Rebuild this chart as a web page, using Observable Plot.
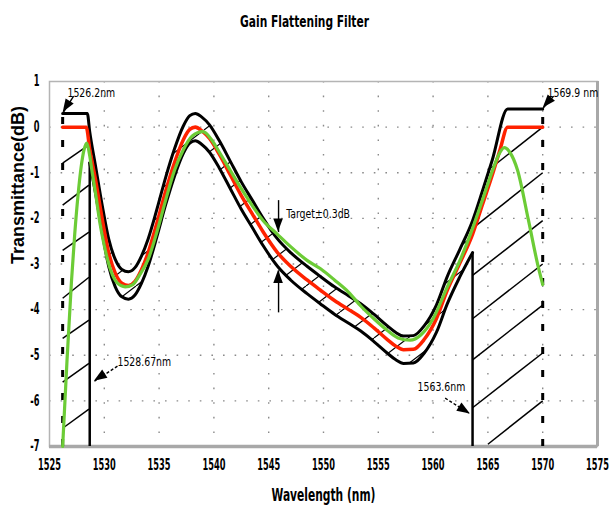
<!DOCTYPE html>
<html><head><meta charset="utf-8">
<script src="https://cdn.jsdelivr.net/npm/d3@7"></script>
<script src="https://cdn.jsdelivr.net/npm/@observablehq/plot@0.6"></script>
<style>body{margin:0;background:#fff}</style>
</head><body><div id="chart"></div>
<script>
const NARROW = "'Liberation Sans Narrow','DejaVu Sans Condensed','Arial Narrow',sans-serif";
const WIDE = "'Liberation Sans',Arial,sans-serif";

// axis ticks
const xTicks = [1525, 1530, 1535, 1540, 1545, 1550, 1555, 1560, 1565, 1570, 1575];
const yTicks = [1, 0, -1, -2, -3, -4, -5, -6, -7];
const gridX = [1530, 1535, 1540, 1545, 1550, 1555, 1560, 1565, 1570];
const gridY = [0, -1, -2, -3, -4, -5, -6];

// mask / target curves (middle section, shared wavelengths)
const wlMid = [1528.67, 1529.2, 1529.8, 1530.4, 1531.0, 1531.6, 1532.2, 1532.8, 1533.4, 1534.0, 1534.8, 1535.6, 1536.4, 1537.2, 1537.8, 1538.3, 1538.9, 1539.6, 1540.5, 1541.5, 1542.5, 1543.5, 1544.5, 1545.8, 1547.0, 1548.5, 1549.7, 1551.0, 1552.3, 1553.4, 1554.6, 1555.8, 1556.6, 1557.3, 1558.2, 1559.2, 1560.3, 1561.3, 1562.4, 1563.6];
const targetMid = [-0.48, -1.15, -2.0, -2.75, -3.2, -3.42, -3.47, -3.38, -3.12, -2.75, -2.1, -1.4, -0.78, -0.28, -0.05, 0.0, -0.08, -0.25, -0.6, -1.05, -1.5, -1.9, -2.3, -2.75, -3.05, -3.35, -3.57, -3.8, -4.0, -4.17, -4.4, -4.65, -4.8, -4.88, -4.87, -4.65, -4.2, -3.57, -3.0, -2.35];
const upperMid = [-0.1, -0.85, -1.7, -2.45, -2.9, -3.12, -3.17, -3.08, -2.82, -2.45, -1.8, -1.1, -0.48, 0.02, 0.25, 0.3, 0.22, 0.05, -0.3, -0.75, -1.2, -1.6, -2.0, -2.45, -2.75, -3.05, -3.27, -3.5, -3.7, -3.87, -4.1, -4.35, -4.5, -4.58, -4.57, -4.35, -3.9, -3.27, -2.7, -2.05];
const lowerMid = [-0.78, -1.45, -2.3, -3.05, -3.5, -3.72, -3.77, -3.68, -3.42, -3.05, -2.4, -1.7, -1.08, -0.58, -0.35, -0.3, -0.38, -0.55, -0.9, -1.35, -1.8, -2.2, -2.6, -3.05, -3.35, -3.65, -3.87, -4.1, -4.3, -4.47, -4.7, -4.95, -5.1, -5.18, -5.17, -4.95, -4.5, -3.87, -3.3, -2.75];

// edges
const targetLeftWl = [1526.2, 1528.35];
const targetLeftDb = [0, 0];
const targetRightWl = [1564.5, 1565.4, 1566.1, 1566.8, 1570.0];
const targetRightDb = [-1.7, -1.05, -0.5, 0, 0];
const upperLeftWl = [1526.2, 1528.45];
const upperLeftDb = [0.3, 0.3];
const upperRightWl = [1564.5, 1565.4, 1566.8, 1570.0];
const upperRightDb = [-1.4, -0.72, 0.4, 0.4];

// measured transmittance (green)
const measWl = [1526.2, 1526.6, 1527.0, 1527.3, 1527.6, 1527.9, 1528.15, 1528.4, 1528.65, 1528.9, 1529.2, 1529.6, 1530.0, 1530.6, 1531.2, 1531.9, 1532.6, 1533.2, 1534.0, 1534.8, 1535.6, 1536.4, 1537.2, 1538.0, 1539.0, 1539.8, 1540.5, 1541.5, 1542.5, 1543.5, 1544.5, 1545.8, 1547.0, 1548.5, 1549.7, 1551.0, 1552.3, 1553.4, 1554.6, 1555.8, 1556.8, 1557.9, 1558.9, 1560.0, 1561.3, 1562.4, 1563.4, 1564.5, 1565.5, 1566.0, 1566.5, 1567.0, 1567.7, 1568.7, 1569.6, 1570.0];
const measDb = [-7.0, -5.1, -3.4, -2.35, -1.5, -0.85, -0.5, -0.35, -0.6, -1.0, -1.45, -2.1, -2.6, -3.15, -3.42, -3.5, -3.45, -3.25, -2.9, -2.3, -1.6, -0.95, -0.5, -0.2, -0.1, -0.28, -0.55, -0.95, -1.35, -1.72, -2.05, -2.35, -2.62, -2.92, -3.1, -3.35, -3.62, -3.92, -4.2, -4.45, -4.62, -4.67, -4.55, -4.2, -3.5, -2.95, -2.35, -1.6, -0.9, -0.6, -0.45, -0.55, -0.94, -2.04, -3.07, -3.45];

// band limits (vertical lines)
const solidLineWl = [1528.67, 1563.6];
const solidLineTop = [-0.78, -2.75];
const dashedLineWl = [1526.2, 1570.0];
const dashedLineTop = [0.3, 0.4];

// hatching of the side regions
const leftHatchY1 = [-0.79, -1.71, -2.70, -3.75, -4.63, -5.59, -6.60];
const leftHatchY2 = [-0.39, -1.27, -2.30, -3.29, -4.23, -5.18, -6.18];
const rightHatchX1 = [1565.3, 1563.6, 1563.6, 1563.6, 1563.6, 1563.6, 1565.0];
const rightHatchY1 = [-0.89, -2.22, -3.25, -4.2, -5.1, -6.15, -6.95];
const rightHatchY2 = [0.0, -1.0, -2.05, -3.0, -3.9, -4.95, -6.0];

// annotations
const annoText = ["1526.2nm", "1569.9 nm", "1528.67nm", "1563.6nm", "Target±0.3dB"];
const annoX = [1526.64, 1570.44, 1531.2, 1558.58, 1546.6];
const annoY = [0.75, 0.75, -5.15, -5.70, -1.89];
const arrowX1 = [1527.2, 1571.0, 1531.2, 1561.1, 1545.9, 1545.9];
const arrowY1 = [0.68, 0.68, -5.24, -5.94, -1.6, -4.06];
const arrowX2 = [1526.25, 1570.05, 1529.1, 1563.4, 1545.9, 1545.9];
const arrowY2 = [0.32, 0.42, -5.57, -6.29, -2.3, -3.14];
const arrowDashed = [false, false, true, true, false, false];

const titleText = "Gain Flattening Filter";
const xLabel = "Wavelength (nm)";
const yLabel = "Transmittance(dB)";

// tables
const pts = (w, v) => w.map((x, i) => ({w: x, db: v[i]}));
const targetPts = [...pts(targetLeftWl, targetLeftDb), ...pts(wlMid, targetMid), ...pts(targetRightWl, targetRightDb)];
const upperPts = [...pts(upperLeftWl, upperLeftDb), ...pts(wlMid, upperMid), ...pts(upperRightWl, upperRightDb)];
const lowerPts = pts(wlMid, lowerMid);
const bandPts = wlMid.map((w, i) => ({w, lo: lowerMid[i], hi: upperMid[i]}));
const measPts = pts(measWl, measDb);
const solidLines = solidLineWl.map((w, i) => ({w, top: solidLineTop[i]}));
const dashedLines = dashedLineWl.map((w, i) => ({w, top: dashedLineTop[i]}));
const leftHatch = leftHatchY1.map((y, i) => ({x1: 1526.2, y1: y, x2: 1528.6, y2: leftHatchY2[i]}));
const rightHatch = rightHatchY1.map((y, i) => ({x1: rightHatchX1[i], y1: y, x2: 1570.0, y2: rightHatchY2[i]}));
const annos = annoText.map((t, i) => ({t, x: annoX[i], y: annoY[i]}));
const arrows = arrowX1.map((x, i) => ({x1: x, y1: arrowY1[i], x2: arrowX2[i], y2: arrowY2[i], dashed: arrowDashed[i]}));

const chart = Plot.plot({
  width: 611, height: 510,
  marginLeft: 49, marginRight: 14, marginTop: 81, marginBottom: 64,
  style: {fontFamily: NARROW, fontSize: "15px", fontWeight: "bold", background: "#fff", color: "#000"},
  x: {domain: [1525, 1575], ticks: xTicks, tickFormat: d => `${d}`, tickSize: 0, tickPadding: 13, label: null},
  y: {domain: [-7, 1], ticks: yTicks, tickFormat: d => `${d}`, tickSize: 0, tickPadding: 10, label: null},
  marks: [
    Plot.ruleY(gridY, {stroke: "#8a8a8a", strokeWidth: 1.4, strokeDasharray: "1.6,10"}),
    Plot.ruleX(gridX, {stroke: "#8a8a8a", strokeWidth: 1.4, strokeDasharray: "1.6,13"}),
    Plot.frame({stroke: "#b4b4b4", strokeWidth: 1.5}),
    Plot.ruleY([-7], {stroke: "#a8a8a8", strokeWidth: 3.5}),
    Plot.ruleX([1575], {stroke: "#a8a8a8", strokeWidth: 3}),
    Plot.areaY(bandPts, {x: "w", y1: "lo", y2: "hi", fill: "url(#bandHatch)", curve: "monotone-x"}),
    Plot.link(leftHatch, {x1: "x1", y1: "y1", x2: "x2", y2: "y2", stroke: "#000", strokeWidth: 1.5}),
    Plot.link(rightHatch, {x1: "x1", y1: "y1", x2: "x2", y2: "y2", stroke: "#000", strokeWidth: 1.5}),
    Plot.ruleX(dashedLines, {x: "w", y1: -7, y2: "top", stroke: "#000", strokeWidth: 3, strokeDasharray: "7,16"}),
    Plot.ruleX(solidLines, {x: "w", y1: -7, y2: "top", stroke: "#000", strokeWidth: 2.5}),
    Plot.line(lowerPts, {x: "w", y: "db", stroke: "#000", strokeWidth: 3, curve: "monotone-x"}),
    Plot.line(upperPts, {x: "w", y: "db", stroke: "#000", strokeWidth: 3, curve: "monotone-x"}),
    Plot.line(targetPts, {x: "w", y: "db", stroke: "#ff2200", strokeWidth: 3.5, curve: "monotone-x"}),
    Plot.line(measPts, {x: "w", y: "db", stroke: "#6ccc36", strokeWidth: 3.2, curve: "monotone-x"}),
    Plot.link(arrows.filter(d => !d.dashed), {x1: "x1", y1: "y1", x2: "x2", y2: "y2", stroke: "#000", strokeWidth: 1.4}),
    Plot.link(arrows.filter(d => d.dashed), {x1: "x1", y1: "y1", x2: "x2", y2: "y2", stroke: "#000", strokeWidth: 1.4, strokeDasharray: "3,2"}),
    Plot.text(annos, {x: "x", y: "y", text: "t", textAnchor: "start", fontSize: 13, fontWeight: "normal", fill: "#000"}),
    Plot.text([titleText], {frameAnchor: "top", dx: -19, dy: -66, text: d => d, fontSize: 16, fontWeight: "bold"}),
    Plot.text([xLabel], {frameAnchor: "bottom", dx: 0, dy: 54, text: d => d, fontSize: 17, fontWeight: "bold"}),
    Plot.text([yLabel], {frameAnchor: "left", dx: -31, rotate: -90, text: d => d, fontSize: 18, fontWeight: "bold", fontFamily: WIDE})
  ]
});

// pattern for the tolerance band hatching + filled arrowheads
const svg = d3.select(chart);
const pw = 34, ph = 26;
svg.insert("defs", ":first-child").append("pattern")
  .attr("id", "bandHatch").attr("patternUnits", "userSpaceOnUse")
  .attr("width", pw).attr("height", ph)
  .append("path")
  .attr("d", `M0,${ph}L${pw},0M${-pw},${ph}L0,0M${pw},${ph}L${2 * pw},0`)
  .attr("stroke", "#000").attr("stroke-width", 1.2).attr("fill", "none");

const sx = chart.scale("x"), sy = chart.scale("y");
const headG = svg.append("g").attr("fill", "#000");
arrows.forEach(a => {
  const X1 = sx.apply(a.x1), Y1 = sy.apply(a.y1), X2 = sx.apply(a.x2), Y2 = sy.apply(a.y2);
  const dx = X2 - X1, dy = Y2 - Y1, L = Math.hypot(dx, dy);
  const ux = dx / L, uy = dy / L, nx = -uy, ny = ux;
  const hl = 13, hw = 4.8;
  const bx = X2 - ux * hl, by = Y2 - uy * hl;
  headG.append("path").attr("d",
    `M${X2},${Y2}L${bx + nx * hw},${by + ny * hw}L${bx - nx * hw},${by - ny * hw}Z`);
});

document.getElementById("chart").append(chart);

// condense horizontal texts like the reference (narrow lettering) with a horizontal scale
const squeeze = (node, f) => {
  const x0 = +(node.getAttribute("x") || 0);
  const t = node.getAttribute("transform") || "";
  node.setAttribute("transform", `${t} translate(${x0},0) scale(${f},1) translate(${-x0},0)`);
};
const tickSel = svg.selectAll("g[aria-label='x-axis tick label'] text, g[aria-label='y-axis tick label'] text");
tickSel.each(function() { this.style.fontSize = "15px"; });
const xTickTexts = svg.selectAll("g[aria-label='x-axis tick label'] text").nodes();
const k = xTickTexts.length ? 23 / xTickTexts[0].getComputedTextLength() : 0.8;
tickSel.each(function() { squeeze(this, k); });
svg.selectAll("g[aria-label='text'] text").each(function() {
  const t = this.textContent, w = this.getComputedTextLength();
  if (t === yLabel) return;
  if (t === titleText) squeeze(this, 129 / w);
  else if (t === xLabel) squeeze(this, 104 / w);
  else squeeze(this, 0.8);
});
</script></body></html>
